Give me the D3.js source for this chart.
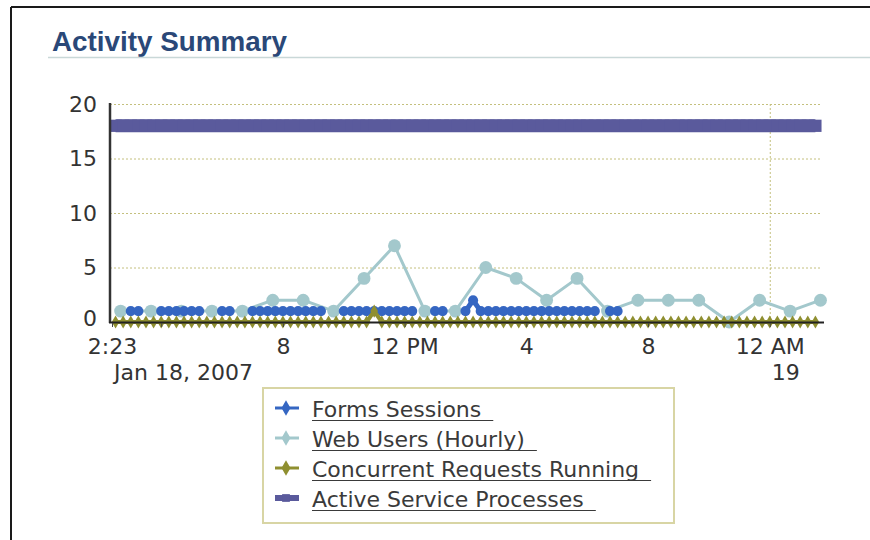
<!DOCTYPE html>
<html>
<head>
<meta charset="utf-8">
<script src="https://cdn.jsdelivr.net/npm/d3@7"></script>
<style>
  body { margin: 0; background: #fff; }
  svg { display: block; }
</style>
</head>
<body>
<svg></svg>
<script>
// 15 minute samples, 2:30 AM Jan 18 -> 1:30 AM Jan 19 (null = no sessions reported)
let sampleStart = new Date(2007, 0, 18, 2, 30);
let formsSessions = [
  null, null, 1, 1, null, null, 1, 1, 1, 1,
  1, 1, null, null, 1, 1, null, null, 1, 1,
  1, 1, 1, 1, 1, 1, 1, 1, null, null,
  1, 1, 1, 1, 1, 1, 1, 1, 1, 1,
  null, null, 1, 1, null, null, 1, 2, 1, 1,
  1, 1, 1, 1, 1, 1, 1, 1, 1, 1,
  1, 1, 1, 1, null, 1, 1, null, null, null,
  null, null, null, null, null, null, null, null, null, null,
  null, null, null, null, null, null, null, null, null, null,
  null, null, null
];
let concurrentRequests = [
  0, 0, 0, 0, 0, 0, 0, 0, 0, 0,
  0, 0, 0, 0, 0, 0, 0, 0, 0, 0,
  0, 0, 0, 0, 0, 0, 0, 0, 0, 0,
  0, 0, 0, 0, 1, 0, 0, 0, 0, 0,
  0, 0, 0, 0, 0, 0, 0, 0, 0, 0,
  0, 0, 0, 0, 0, 0, 0, 0, 0, 0,
  0, 0, 0, 0, 0, 0, 0, 0, 0, 0,
  0, 0, 0, 0, 0, 0, 0, 0, 0, 0,
  0, 0, 0, 0, 0, 0, 0, 0, 0, 0,
  0, 0, 0
];
let activeProcesses = [
  18, 18, 18, 18, 18, 18, 18, 18, 18, 18,
  18, 18, 18, 18, 18, 18, 18, 18, 18, 18,
  18, 18, 18, 18, 18, 18, 18, 18, 18, 18,
  18, 18, 18, 18, 18, 18, 18, 18, 18, 18,
  18, 18, 18, 18, 18, 18, 18, 18, 18, 18,
  18, 18, 18, 18, 18, 18, 18, 18, 18, 18,
  18, 18, 18, 18, 18, 18, 18, 18, 18, 18,
  18, 18, 18, 18, 18, 18, 18, 18, 18, 18,
  18, 18, 18, 18, 18, 18, 18, 18, 18, 18,
  18, 18, 18
];

// hourly samples, 2:40 AM Jan 18 -> 1:40 AM Jan 19
let hourlyStart = new Date(2007, 0, 18, 2, 40);
let webUsers = [1, 1, 1, 1, 1, 2, 2, 1, 4, 7, 1, 1, 5, 4, 2, 4, 1, 2, 2, 2, 0, 2, 1, 2];

let yTicks = [0, 5, 10, 15, 20];
let xTickTimes = [
  new Date(2007, 0, 18, 2, 23),
  new Date(2007, 0, 18, 4),
  new Date(2007, 0, 18, 8),
  new Date(2007, 0, 18, 12),
  new Date(2007, 0, 18, 16),
  new Date(2007, 0, 18, 20),
  new Date(2007, 0, 19, 0)
];
let xTickLabels = ['2:23', '', '8', '12 PM', '4', '8', '12 AM'];
let xDateLabels = ['Jan 18, 2007', '', '', '', '', '', '19'];

let legendNames = ['Forms Sessions', 'Web Users (Hourly)', 'Concurrent Requests Running', 'Active Service Processes'];

let width = 870;
let height = 540;
let plotLeft = 110;
let plotRight = 822;

let svg = d3.select('svg')
  .attr('width', width)
  .attr('height', height)

let xScale = d3.scaleTime()
  .domain([new Date(2007, 0, 18, 2, 23), new Date(2007, 0, 19, 1, 43)])
  .range([112, plotRight])

let yScale = d3.scaleLinear()
  .domain([0, 20])
  .range([322, 104])

let quarterTime = (i) => d3.timeMinute.offset(sampleStart, 15 * i)
let hourTime = (i) => d3.timeHour.offset(hourlyStart, i)

let series = [
  { name: legendNames[1], values: webUsers, time: hourTime, color: '#a3c8cc', width: 3, symbol: d3.symbolCircle, size: 130 },
  { name: legendNames[0], values: formsSessions, time: quarterTime, color: '#3566c2', width: 5, symbol: d3.symbolCircle, size: 80 },
  { name: legendNames[2], values: concurrentRequests, time: quarterTime, color: '#8f8f30', width: 4, symbol: d3.symbolDiamond, size: 50 },
  { name: legendNames[3], values: activeProcesses, time: quarterTime, color: '#5a5a9c', width: 13, symbol: d3.symbolSquare, size: 150 }
];

let drawFrame = () => {
  svg.append('line')
    .attr('x1', 11).attr('x2', 11).attr('y1', 7).attr('y2', height)
    .attr('stroke', '#1a1a1a').attr('stroke-width', 2)
  svg.append('line')
    .attr('x1', 11).attr('x2', width).attr('y1', 7).attr('y2', 7)
    .attr('stroke', '#1a1a1a').attr('stroke-width', 2)

  svg.append('text')
    .attr('x', 52)
    .attr('y', 51)
    .attr('font-family', 'Liberation Sans, Arial, sans-serif')
    .attr('font-weight', 'bold')
    .attr('font-size', 27)
    .attr('fill', '#2a4878')
    .attr('textLength', 235)
    .attr('lengthAdjust', 'spacingAndGlyphs')
    .text('Activity Summary')

  svg.append('line')
    .attr('x1', 48).attr('x2', width).attr('y1', 57.5).attr('y2', 57.5)
    .attr('stroke', '#c9d8d8').attr('stroke-width', 1.5)
}

let drawGrid = () => {
  svg.append('g')
    .selectAll('line')
    .data(yTicks.filter(d => d > 0))
    .enter()
    .append('line')
    .attr('x1', plotLeft)
    .attr('x2', plotRight)
    .attr('y1', d => yScale(d) + 0.5)
    .attr('y2', d => yScale(d) + 0.5)
    .attr('stroke', '#c4c07e')
    .attr('stroke-dasharray', '2,2')

  svg.append('line')
    .attr('x1', xScale(xTickTimes[6]) + 0.5)
    .attr('x2', xScale(xTickTimes[6]) + 0.5)
    .attr('y1', yScale(20))
    .attr('y2', yScale(0))
    .attr('stroke', '#c4c07e')
    .attr('stroke-dasharray', '2,2')
}

let drawSeries = () => {
  series.forEach((s) => {
    let points = s.values.map((v, i) => ({ t: s.time(i), v: v }))
    let line = d3.line()
      .defined(d => d.v !== null)
      .x(d => xScale(d.t))
      .y(d => yScale(d.v))

    svg.append('path')
      .datum(points)
      .attr('fill', 'none')
      .attr('stroke', s.color)
      .attr('stroke-width', s.width)
      .attr('stroke-linejoin', 'round')
      .attr('d', line)

    svg.append('g')
      .selectAll('path')
      .data(points.filter(d => d.v !== null))
      .enter()
      .append('path')
      .attr('d', d3.symbol().type(s.symbol).size(s.size))
      .attr('transform', d => `translate(${xScale(d.t)}, ${yScale(d.v)})`)
      .attr('fill', s.color)
  })
}

let drawAxis = () => {
  svg.append('line')
    .attr('x1', plotLeft).attr('x2', plotLeft)
    .attr('y1', 103).attr('y2', 323)
    .attr('stroke', '#333').attr('stroke-width', 2.5)
  svg.append('line')
    .attr('x1', plotLeft - 1).attr('x2', plotRight + 2)
    .attr('y1', 322.5).attr('y2', 322.5)
    .attr('stroke', '#222').attr('stroke-width', 2)

  let xAxis = d3.axisBottom(xScale)
    .tickValues(xTickTimes)
    .tickSizeInner(4)
    .tickSizeOuter(0)
    .tickFormat((d, i) => xTickLabels[i])

  let gx = svg.append('g')
    .attr('id', 'x-axis')
    .attr('transform', `translate(0, 323)`)
    .call(xAxis)
  gx.select('.domain').remove()
  gx.selectAll('line').attr('stroke', '#444')
  gx.selectAll('text')
    .attr('y', 31)
    .attr('dy', 0)
    .attr('font-family', 'DejaVu Sans, sans-serif')
    .attr('font-size', 22)
    .attr('fill', '#333')

  svg.append('g')
    .selectAll('text')
    .data(xTickTimes)
    .enter()
    .append('text')
    .attr('x', d => xScale(d) + 2)
    .attr('y', 380)
    .attr('font-family', 'DejaVu Sans, sans-serif')
    .attr('font-size', 22)
    .attr('fill', '#333')
    .text((d, i) => xDateLabels[i])

  svg.append('g')
    .attr('id', 'y-axis')
    .selectAll('text')
    .data(yTicks)
    .enter()
    .append('text')
    .attr('x', 97)
    .attr('y', d => yScale(d))
    .attr('dy', d => d === 0 ? '0.2em' : '0.36em')
    .attr('text-anchor', 'end')
    .attr('font-family', 'DejaVu Sans, sans-serif')
    .attr('font-size', 22)
    .attr('fill', '#333')
    .text(d => d)
}

let drawLegend = () => {
  let legend = svg.append('g')
  legend.append('rect')
    .attr('x', 263).attr('y', 388)
    .attr('width', 411).attr('height', 135)
    .attr('fill', '#fff')
    .attr('stroke', '#d8d5a4')
    .attr('stroke-width', 2)

  let order = [1, 0, 2, 3]
  order.forEach((si, row) => {
    let s = series[si]
    let cy = 408 + row * 30
    legend.append('line')
      .attr('x1', 275).attr('x2', 299)
      .attr('y1', cy).attr('y2', cy)
      .attr('stroke', s.color)
      .attr('stroke-width', si === 3 ? 6 : 3)
    legend.append('path')
      .attr('d', d3.symbol().type(si === 3 ? d3.symbolSquare : d3.symbolDiamond).size(si === 3 ? 60 : 70))
      .attr('transform', `translate(286, ${cy})`)
      .attr('fill', s.color)

    let label = legend.append('text')
      .attr('x', 312)
      .attr('y', cy + 9)
      .attr('font-family', 'DejaVu Sans, sans-serif')
      .attr('font-size', 22)
      .attr('fill', '#3a3a3a')
      .text(s.name)
    let textWidth = label.node().getComputedTextLength()
    legend.append('line')
      .attr('x1', 312).attr('x2', 312 + textWidth + 12)
      .attr('y1', cy + 12.5).attr('y2', cy + 12.5)
      .attr('stroke', '#3a3a3a')
      .attr('stroke-width', 1)
  })
}

drawFrame()
drawGrid()
drawSeries()
drawAxis()
drawLegend()
</script>
</body>
</html>
